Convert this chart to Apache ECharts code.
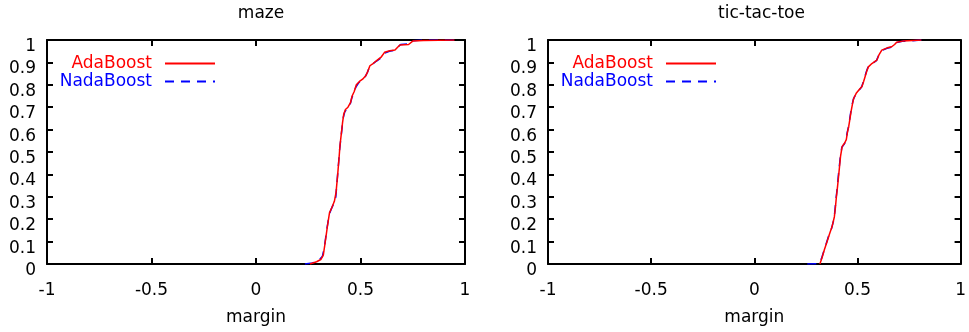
<!DOCTYPE html>
<html>
<head>
<meta charset="utf-8">
<script src="https://cdn.jsdelivr.net/npm/echarts@6/dist/echarts.min.js"></script>
<style>
  html, body { margin: 0; padding: 0; background: #fff; }
  #chart { width: 969px; height: 332px; }
</style>
</head>
<body>
<div id="chart"></div>
<script>
// cumulative margin distributions, [margin, fraction]
var mazeAda = [[0.258,0],[0.29,0.01],[0.31,0.02],[0.322,0.04],[0.33,0.09],[0.342,0.17],[0.352,0.23],[0.362,0.25],[0.375,0.28],[0.383,0.32],[0.39,0.39],[0.397,0.47],[0.402,0.53],[0.408,0.58],[0.414,0.63],[0.42,0.67],[0.428,0.69],[0.44,0.7],[0.452,0.72],[0.46,0.75],[0.47,0.77],[0.48,0.8],[0.495,0.815],[0.51,0.825],[0.525,0.84],[0.535,0.86],[0.545,0.885],[0.56,0.895],[0.58,0.91],[0.6,0.925],[0.615,0.945],[0.64,0.952],[0.665,0.955],[0.68,0.97],[0.69,0.978],[0.73,0.98],[0.75,0.995],[0.8,0.998],[0.95,1]];
var mazeNada = [[0.234,0],[0.27,0.005],[0.3,0.015],[0.318,0.035],[0.328,0.08],[0.338,0.15],[0.35,0.22],[0.36,0.245],[0.372,0.27],[0.382,0.3],[0.388,0.37],[0.395,0.45],[0.4,0.51],[0.406,0.56],[0.412,0.61],[0.418,0.655],[0.425,0.68],[0.438,0.695],[0.45,0.71],[0.458,0.74],[0.468,0.765],[0.478,0.79],[0.492,0.81],[0.508,0.822],[0.522,0.835],[0.533,0.855],[0.543,0.88],[0.555,0.89],[0.575,0.905],[0.598,0.92],[0.612,0.94],[0.638,0.95],[0.66,0.953],[0.678,0.968],[0.692,0.98],[0.728,0.982],[0.748,0.996],[0.8,1],[0.95,1]];
var tttAda = [[0.318,0],[0.329,0.03],[0.34,0.065],[0.353,0.1],[0.365,0.135],[0.377,0.167],[0.388,0.21],[0.393,0.25],[0.398,0.3],[0.404,0.35],[0.41,0.405],[0.418,0.48],[0.426,0.525],[0.438,0.54],[0.446,0.555],[0.452,0.59],[0.458,0.615],[0.464,0.65],[0.469,0.68],[0.476,0.715],[0.482,0.74],[0.494,0.762],[0.51,0.78],[0.522,0.792],[0.53,0.815],[0.537,0.836],[0.545,0.86],[0.553,0.88],[0.57,0.895],[0.594,0.91],[0.605,0.935],[0.618,0.955],[0.645,0.965],[0.666,0.97],[0.68,0.98],[0.69,0.99],[0.72,0.995],[0.81,1]];
var tttNada = [[0.257,0],[0.315,0.002],[0.326,0.025],[0.338,0.06],[0.35,0.095],[0.362,0.13],[0.375,0.16],[0.386,0.2],[0.391,0.24],[0.396,0.29],[0.402,0.34],[0.408,0.4],[0.416,0.47],[0.424,0.52],[0.436,0.535],[0.444,0.55],[0.45,0.585],[0.456,0.61],[0.462,0.645],[0.467,0.675],[0.474,0.71],[0.48,0.735],[0.492,0.758],[0.508,0.776],[0.52,0.79],[0.528,0.812],[0.535,0.834],[0.543,0.858],[0.551,0.878],[0.568,0.893],[0.592,0.908],[0.603,0.932],[0.616,0.952],[0.643,0.963],[0.664,0.968],[0.678,0.978],[0.688,0.988],[0.718,0.994],[0.81,1]];

var titles = ["maze", "tic-tac-toe"];
var xName = "margin";

var FONT = "DejaVu Sans";
var grids = [
  { left: 47, right: 504, top: 40, bottom: 68 },
  { left: 548, right: 4, top: 40, bottom: 68 }
];
var axisLine = { show: true, onZero: false, lineStyle: { color: "#000", width: 2 } };
var axisTick = { show: true, inside: true, length: 6, lineStyle: { color: "#000", width: 2 } };

var xAxes = [], yAxes = [], series = [], legends = [], titleOpts = [];
var legendRight = [753, 252];
var curves = [[mazeAda, mazeNada], [tttAda, tttNada]];

grids.forEach(function (g, i) {
  titleOpts.push({
    text: titles[i],
    left: g.left + (969 - g.left - g.right) / 2,
    textAlign: "center",
    top: 0,
    textStyle: { fontFamily: FONT, fontSize: 17, fontWeight: "normal", color: "#000" }
  });
  // bottom + mirrored top axis
  xAxes.push({
    gridIndex: i, type: "value", min: -1, max: 1, interval: 0.5, position: "bottom",
    name: xName, nameLocation: "middle", nameGap: 45,
    nameTextStyle: { fontFamily: FONT, fontSize: 17, color: "#000" },
    axisLine: axisLine, axisTick: axisTick, splitLine: { show: false },
    axisLabel: { fontFamily: FONT, fontSize: 17, color: "#000", margin: 18 }
  });
  xAxes.push({
    gridIndex: i, type: "value", min: -1, max: 1, interval: 0.5, position: "top",
    axisLine: axisLine, axisTick: axisTick, splitLine: { show: false },
    axisLabel: { show: false }
  });
  yAxes.push({
    gridIndex: i, type: "value", min: 0, max: 1, interval: 0.1, position: "left",
    axisLine: axisLine, axisTick: axisTick, splitLine: { show: false },
    axisLabel: { fontFamily: FONT, fontSize: 17, color: "#000", margin: 11, verticalAlign: "top", lineHeight: 13 }
  });
  yAxes.push({
    gridIndex: i, type: "value", min: 0, max: 1, interval: 0.1, position: "right",
    axisLine: axisLine, axisTick: axisTick, splitLine: { show: false },
    axisLabel: { show: false }
  });
  series.push({
    name: "NadaBoost", type: "line", xAxisIndex: i * 2, yAxisIndex: i * 2,
    data: curves[i][1], symbol: "none", animation: false,
    lineStyle: { color: "#0000ff", width: 1.5, type: [9, 7] }, itemStyle: { color: "#0000ff" }
  });
  series.push({
    name: "AdaBoost", type: "line", xAxisIndex: i * 2, yAxisIndex: i * 2,
    data: curves[i][0], symbol: "none", animation: false,
    lineStyle: { color: "#ff0000", width: 1.5 }, itemStyle: { color: "#ff0000" }
  });
  [["AdaBoost", "#ff0000", 55], ["NadaBoost", "#0000ff", 73]].forEach(function (it) {
    legends.push({
      data: [{ name: it[0], textStyle: { color: it[1] } }],
      right: legendRight[i], top: it[2], align: "right", orient: "vertical",
      selectedMode: false, itemWidth: 50, itemHeight: 14, padding: 0,
      itemStyle: { opacity: 0 },
      textStyle: { fontFamily: FONT, fontSize: 17, padding: [0, 8, 0, 0] }
    });
  });
});

var chart = echarts.init(document.getElementById("chart"));
chart.setOption({
  animation: false,
  backgroundColor: "#fff",
  title: titleOpts,
  grid: grids,
  xAxis: xAxes,
  yAxis: yAxes,
  legend: legends,
  series: series
});
</script>
</body>
</html>
